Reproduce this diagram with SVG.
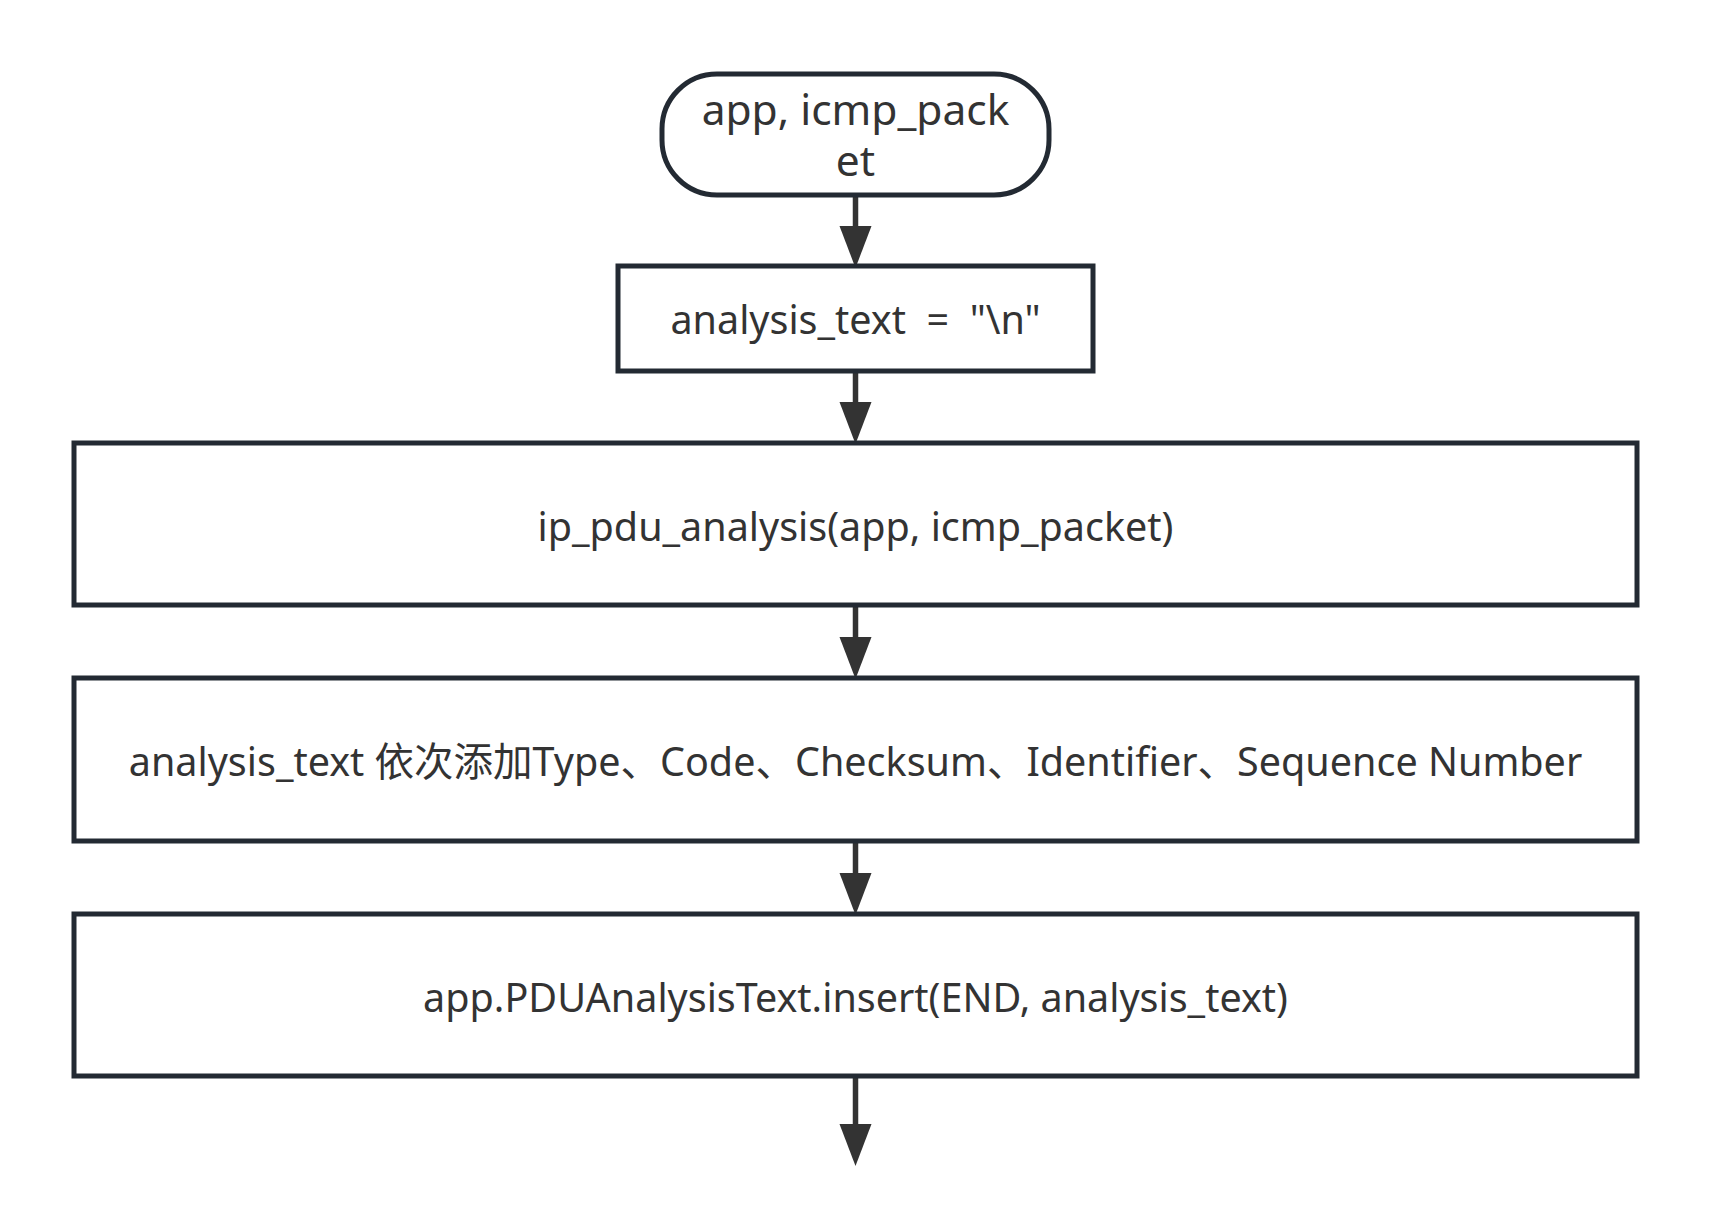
<svg xmlns="http://www.w3.org/2000/svg" width="1710" height="1226" viewBox="0 0 1710 1226">
<style>
.box{fill:#ffffff;stroke:#232a33;stroke-width:5}
.lbl{font-family:"Noto Sans","Noto Sans CJK SC",sans-serif;font-size:39.5px;fill:#333333;text-anchor:middle}
.term{font-family:"Noto Sans","Noto Sans CJK SC",sans-serif;font-size:42.5px;fill:#333333;text-anchor:middle}
.edge{stroke:#333333;stroke-width:5.5;fill:none}
.head{fill:#333333}
</style>
<rect width="1710" height="1226" fill="#ffffff"/>
<g id="connectors">
<path class="edge" d="M855.5,195 V230"/>
<path class="head" d="M839.5,226 L871.5,226 L855.5,268 Z"/>
<path class="edge" d="M855.5,371 V406"/>
<path class="head" d="M839.5,402 L871.5,402 L855.5,444 Z"/>
<path class="edge" d="M855.5,605 V641"/>
<path class="head" d="M839.5,637 L871.5,637 L855.5,679 Z"/>
<path class="edge" d="M855.5,841 V877"/>
<path class="head" d="M839.5,873 L871.5,873 L855.5,915 Z"/>
<path class="edge" d="M855.5,1076 V1128"/>
<path class="head" d="M839.5,1124 L871.5,1124 L855.5,1166 Z"/>
</g>
<g id="start">
<rect class="box" x="662" y="74" width="387" height="121" rx="55" ry="55"/>
<text class="term" x="855.5" y="125">app, icmp_pack</text>
<text class="term" x="855.5" y="176">et</text>
</g>
<g id="init">
<rect class="box" x="618" y="266" width="475" height="105"/>
<text class="lbl" x="855.5" y="334" xml:space="preserve">analysis_text  =  "\n"</text>
</g>
<g id="ip_analysis">
<rect class="box" x="74" y="443" width="1563" height="162"/>
<text class="lbl" x="855.5" y="541">ip_pdu_analysis(app, icmp_packet)</text>
</g>
<g id="append_fields">
<rect class="box" x="74" y="678" width="1563" height="163"/>
<text class="lbl" x="855.5" y="776">analysis_text 依次添加Type、Code、Checksum、Identifier、Sequence Number</text>
</g>
<g id="insert">
<rect class="box" x="74" y="914" width="1563" height="162"/>
<text class="lbl" x="855.5" y="1012">app.PDUAnalysisText.insert(END, analysis_text)</text>
</g>
</svg>
